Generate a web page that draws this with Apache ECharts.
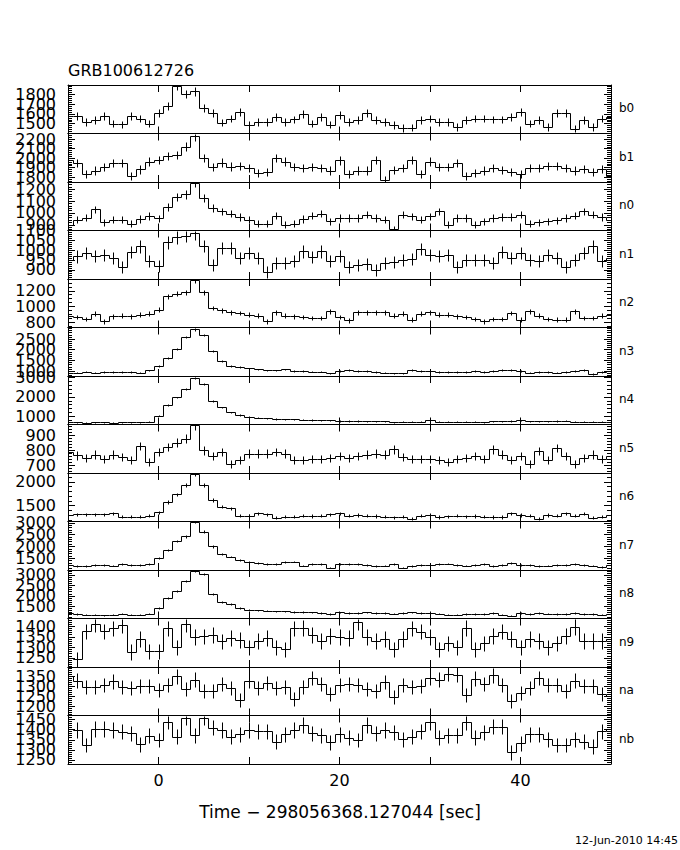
<!DOCTYPE html>
<html>
<head>
<meta charset="utf-8">
<script src="https://cdn.jsdelivr.net/npm/echarts@6/dist/echarts.min.js"></script>
<style>
html,body{margin:0;padding:0;background:#fff;}
#c{width:680px;height:850px;}
</style>
</head>
<body>
<div id="c"></div>
<script>
// ---------------- DATA ----------------
const chartTitle = 'GRB100612726';
const xAxisTitle = 'Time \u2212 298056368.127044 [sec]';
const dateStamp = '12-Jun-2010 14:45';
const detectors = ['b0','b1','n0','n1','n2','n3','n4','n5','n6','n7','n8','n9','na','nb'];

// bin centres (s)
const timeBins = [-10,-9,-8,-7,-6,-5,-4,-3,-2,-1,0,1,2,3,4,5,6,7,8,9,10,11,12,13,14,15,16,17,18,19,20,
  21,22,23,24,25,26,27,28,29,30,31,32,33,34,35,36,37,38,39,40,41,42,43,44,45,46,47,48,49,50];
const xTickLabels = [0, 20, 40];

// count rates (counts/s) per detector, one value per bin
const b0 = [1577,1577,1519,1536,1577,1502,1492,1577,1553,1502,1605,1680,1885,1800,1830,1656,1605,1511,1553,1622,
  1485,1519,1519,1570,1519,1543,1600,1502,1570,1490,1588,1519,1536,1605,1536,1519,1485,1457,1460,1536,
  1553,1519,1519,1468,1536,1553,1553,1543,1543,1570,1622,1502,1536,1468,1605,1605,1451,1536,1468,1553,1570];
const b1 = [1985,1950,1835,1869,1905,1950,1947,1807,1880,1963,1981,2023,2033,2120,2232,1999,1905,1953,1911,1918,
  1894,1842,1850,1999,1963,1905,1894,1905,1894,1869,1975,1832,1869,1869,1981,1772,1876,1894,1981,1832,
  1963,1905,1905,1947,1807,1842,1869,1894,1876,1850,1832,1894,1894,1918,1918,1894,1869,1883,1850,1883,1807];
const n0 = [900,942,959,1030,920,942,942,910,950,975,955,1050,1135,1155,1255,1127,1042,1013,993,965,
  942,908,908,976,900,908,948,976,993,929,957,957,957,985,957,942,863,985,971,942,
  971,1013,900,957,957,900,929,957,965,965,985,908,920,929,937,957,976,1013,985,965,942];
const n1 = [951,968,985,971,977,960,914,989,1019,943,921,1039,1066,1073,1087,1022,926,1010,1010,960,
  985,960,887,934,934,943,994,963,994,943,971,914,926,931,900,934,938,951,954,1005,
  977,971,977,914,951,951,951,934,989,960,985,951,943,977,960,914,951,985,1019,943,960];
const n2 = [874,865,839,909,809,874,883,874,896,909,960,1128,1165,1179,1334,1179,981,951,926,917,
  896,883,809,926,883,874,865,852,852,938,865,822,926,926,926,926,883,909,831,909,
  926,896,896,874,865,839,809,839,839,917,831,938,883,839,831,831,938,852,852,883,896];
const n3 = [923,923,969,923,954,954,954,954,923,1031,1232,1617,2036,2594,2950,2703,1928,1464,1232,1186,
  1124,1077,1031,1031,1077,1000,1000,969,969,892,1000,1046,1000,1000,954,923,892,892,1046,1000,
  1000,954,954,954,954,1000,954,1000,1046,1046,1000,923,954,954,923,954,1000,1046,861,954,1000];
const n4 = [690,690,680,700,690,680,690,700,690,720,1039,1585,1975,2433,2994,2655,1804,1464,1209,1073,
  980,930,890,860,850,840,830,810,800,790,760,760,760,750,750,740,700,710,720,720,
  790,720,720,720,720,710,700,740,740,760,790,750,750,750,760,780,730,720,720,720,730];
const n5 = [789,766,749,771,744,771,756,733,829,722,789,822,851,878,967,800,762,789,711,733,
  778,778,778,789,778,733,733,744,744,749,762,749,762,771,778,771,806,756,744,744,
  744,733,722,744,749,762,744,806,771,733,762,707,796,733,816,762,711,749,771,740,762];
const n6 = [1304,1319,1319,1319,1319,1340,1271,1271,1271,1292,1361,1583,1735,1929,2172,1929,1616,1479,1444,1292,
  1292,1340,1319,1250,1271,1271,1292,1285,1292,1319,1340,1292,1304,1292,1285,1271,1257,1271,1230,1292,
  1304,1264,1278,1292,1278,1285,1271,1264,1264,1340,1304,1292,1230,1304,1292,1340,1292,1333,1250,1271,1304];
const n7 = [1218,1176,1176,1203,1218,1189,1245,1218,1218,1245,1500,1859,2243,2427,3025,2628,2000,1671,1573,1432,
  1331,1287,1261,1261,1331,1360,1189,1261,1261,1103,1260,1260,1245,1218,1176,1189,1245,1103,1176,1218,
  1218,1245,1275,1218,1189,1218,1245,1176,1218,1287,1218,1218,1176,1189,1218,1218,1245,1218,1189,1130,1218];
const n8 = [1183,1136,1107,1107,1074,1107,1154,1107,1107,1154,1419,1892,2242,2715,3188,3060,2082,1703,1609,1419,
  1344,1311,1296,1263,1263,1230,1230,1216,1183,1136,1216,1183,1183,1216,1183,1183,1154,1183,1216,1183,
  1183,1154,1107,1107,1136,1136,1136,1183,1107,1060,1183,1136,1183,1154,1136,1136,1183,1136,1136,1107,1136];
const n9 = [1250,1243,1376,1410,1376,1390,1408,1278,1340,1282,1281,1390,1300,1410,1349,1352,1360,1328,1344,1335,
  1300,1330,1345,1300,1290,1390,1392,1360,1330,1355,1350,1345,1420,1350,1330,1340,1290,1340,1390,1375,
  1350,1290,1320,1300,1392,1290,1320,1355,1375,1340,1300,1340,1330,1300,1320,1355,1395,1330,1330,1330,1340];
const na = [1350,1328,1295,1295,1308,1325,1295,1292,1300,1300,1283,1308,1350,1288,1333,1275,1275,1312,1290,1233,
  1328,1292,1317,1292,1295,1238,1295,1342,1312,1262,1308,1312,1308,1288,1275,1322,1245,1308,1295,1300,
  1342,1333,1362,1358,1258,1338,1312,1355,1308,1225,1267,1292,1342,1308,1308,1275,1328,1300,1300,1262,1250];
const nb = [1403,1398,1324,1403,1403,1398,1390,1382,1327,1370,1349,1439,1365,1459,1373,1459,1409,1398,1365,1377,
  1398,1393,1393,1340,1377,1398,1423,1382,1373,1337,1377,1360,1349,1423,1382,1398,1387,1353,1365,1393,
  1436,1360,1373,1373,1436,1360,1387,1414,1414,1288,1332,1377,1377,1353,1324,1324,1353,1340,1316,1393,1403];

const counts = [b0,b1,n0,n1,n2,n3,n4,n5,n6,n7,n8,n9,na,nb];

// y ranges and labelled ticks per panel
const yMin = [1400,1748,852,853,732,768,580,649,1167,1005,918,1207,1153,1230];
const yMax = [1895,2260,1260,1100,1351,3043,3080,971,2187,3054,3237,1437,1397,1470];
const yTickLabels = [
  [1500,1600,1700,1800],
  [1800,1900,2000,2100,2200],
  [900,1000,1100,1200],
  [900,950,1000,1050,1100],
  [800,1000,1200],
  [1000,1500,2000,2500],
  [1000,2000,3000],
  [700,800,900],
  [1500,2000],
  [1500,2000,2500,3000],
  [1500,2000,2500,3000],
  [1250,1300,1350,1400],
  [1200,1250,1300,1350],
  [1250,1300,1350,1400,1450]
];
const yMinorStep = [20,20,20,10,50,100,200,20,100,100,100,10,10,10];

// ---------------- LAYOUT / STYLE ----------------
const X_MIN = -10, X_MAX = 50;
const GRID_LEFT = 68, GRID_RIGHT = 69, TOP0 = 85, PANEL_H = 48.5;
const FONT = 'DejaVu Sans';
const INK = '#000';

const chart = echarts.init(document.getElementById('c'), null, {renderer: 'svg', width: 680, height: 850});

function clampY(i, v) { return Math.min(yMax[i], Math.max(yMin[i], v)); }
function snap(p) { return [Math.round(p[0]) + 0.5, Math.round(p[1]) + 0.5]; }
function plain(v) { return String(Math.round(v)); }

function histRenderer(i) {
  const vals = counts[i];
  return function (params, api) {
    const k = params.dataIndex;
    const t = timeBins[k];
    const v = clampY(i, vals[k]);
    const xa = Math.max(t - 0.5, X_MIN), xb = Math.min(t + 0.5, X_MAX);
    const pts = [];
    if (k > 0) pts.push(snap(api.coord([xa, clampY(i, vals[k - 1])])));
    pts.push(snap(api.coord([xa, v])));
    pts.push(snap(api.coord([xb, v])));
    const err = Math.sqrt(vals[k]);
    const a = snap(api.coord([t, clampY(i, vals[k] - err)]));
    const b = snap(api.coord([t, clampY(i, vals[k] + err)]));
    return {
      type: 'group',
      children: [
        {type: 'polyline', shape: {points: pts}, style: {stroke: INK, lineWidth: 1, fill: null}, silent: true},
        {type: 'line', shape: {x1: a[0], y1: a[1], x2: b[0], y2: b[1]}, style: {stroke: INK, lineWidth: 1}, silent: true}
      ]
    };
  };
}

const grids = [], xAxes = [], yAxes = [], series = [], graphics = [];

detectors.forEach(function (name, i) {
  const top = TOP0 + PANEL_H * i;
  const last = i === detectors.length - 1;
  grids.push({left: GRID_LEFT, right: GRID_RIGHT, top: top, height: PANEL_H, containLabel: false});

  const xBase = {
    gridIndex: i, type: 'value', min: X_MIN, max: X_MAX, interval: 10,
    axisLine: {show: true, onZero: false, lineStyle: {color: INK, width: 1}},
    axisTick: {show: true, inside: true, length: 7, lineStyle: {color: INK, width: 1}},
    splitLine: {show: false}
  };
  const xIndex = xAxes.length;
  xAxes.push(Object.assign({}, xBase, {
    position: 'bottom',
    axisLabel: last ? {show: true, customValues: xTickLabels, formatter: plain, hideOverlap: false,
      margin: 8, color: INK, fontFamily: FONT, fontSize: 16} : {show: false}
  }));
  xAxes.push(Object.assign({}, xBase, {position: 'top', axisLabel: {show: false}}));

  const minor = [];
  const st = yMinorStep[i];
  for (let v = Math.ceil(yMin[i] / st) * st; v <= yMax[i] + 1e-9; v += st) minor.push(v);

  const yBase = {gridIndex: i, type: 'value', min: yMin[i], max: yMax[i], splitLine: {show: false}};
  const yIndex = yAxes.length;
  ['left', 'right'].forEach(function (pos) {
    // frame line + major ticks
    yAxes.push(Object.assign({}, yBase, {
      position: pos,
      axisLine: {show: true, onZero: false, lineStyle: {color: INK, width: 1}},
      axisTick: {show: true, inside: true, length: 7, customValues: yTickLabels[i], lineStyle: {color: INK, width: 1}},
      axisLabel: {show: false}
    }));
    // minor ticks
    yAxes.push(Object.assign({}, yBase, {
      position: pos,
      axisLine: {show: false, onZero: false},
      axisTick: {show: true, inside: true, length: 4, customValues: minor, lineStyle: {color: INK, width: 1}},
      axisLabel: {show: false}
    }));
  });
  // one label per axis so that the (overlapping) labels of the reference are all kept
  yTickLabels[i].forEach(function (v) {
    yAxes.push(Object.assign({}, yBase, {
      position: 'left',
      axisLine: {show: false, onZero: false},
      axisTick: {show: false},
      axisLabel: {show: true, customValues: [v], formatter: plain, hideOverlap: false,
        margin: 12, color: INK, fontFamily: FONT, fontSize: 16, lineHeight: 11}
    }));
  });

  series.push({
    type: 'custom',
    name: name,
    xAxisIndex: xIndex,
    yAxisIndex: yIndex,
    data: timeBins.map(function (t, k) { return [t, counts[i][k]]; }),
    encode: {x: 0, y: 1},
    renderItem: histRenderer(i),
    animation: false,
    silent: true
  });

  graphics.push({
    type: 'text', x: 619, y: top + PANEL_H / 2 - 1,
    style: {text: name, fontSize: 12, fontFamily: FONT, fill: INK, align: 'left', verticalAlign: 'middle', textAlign: 'left', textVerticalAlign: 'middle'},
    silent: true
  });
});

graphics.push({
  type: 'text', x: 68, y: 70,
  style: {text: chartTitle, fontSize: 16, fontFamily: FONT, fill: INK, align: 'left', verticalAlign: 'middle', textAlign: 'left', textVerticalAlign: 'middle'}
});
graphics.push({
  type: 'text', x: 340, y: 812,
  style: {text: xAxisTitle, fontSize: 17, fontFamily: FONT, fill: INK, align: 'center', verticalAlign: 'middle', textAlign: 'center', textVerticalAlign: 'middle'}
});
graphics.push({
  type: 'text', x: 678, y: 840,
  style: {text: dateStamp, fontSize: 11, fontFamily: FONT, fill: INK, align: 'right', verticalAlign: 'middle', textAlign: 'right', textVerticalAlign: 'middle'}
});

chart.setOption({
  animation: false,
  backgroundColor: '#fff',
  textStyle: {fontFamily: FONT, color: INK},
  grid: grids,
  xAxis: xAxes,
  yAxis: yAxes,
  series: series,
  graphic: {elements: graphics}
});
</script>
</body>
</html>
